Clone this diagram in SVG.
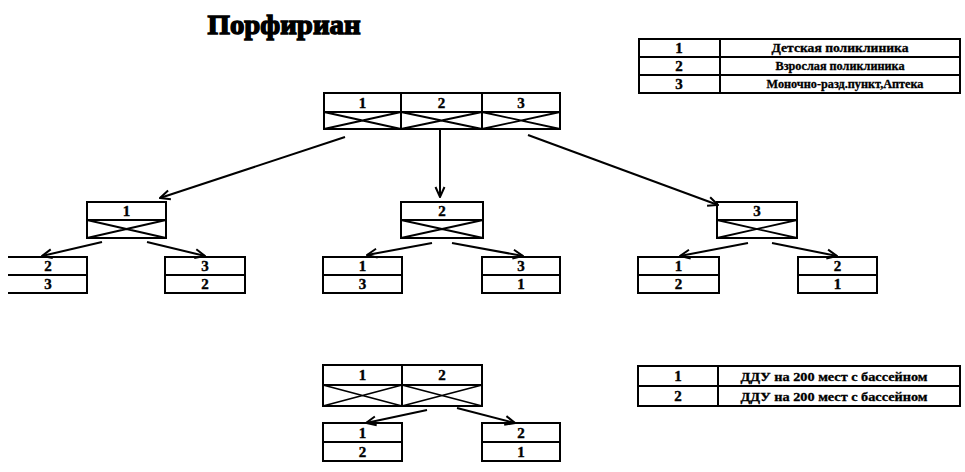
<svg xmlns="http://www.w3.org/2000/svg" width="965" height="472" viewBox="0 0 965 472">
<defs>
<marker id="arr" viewBox="0 0 12 12" refX="11" refY="6" markerWidth="12" markerHeight="12" markerUnits="userSpaceOnUse" orient="auto">
<path d="M1,1.5 L11,6 L1,10.5" fill="none" stroke="#000" stroke-width="2"/>
</marker>
</defs>
<style>
.b{fill:#fff;stroke:#000;stroke-width:2}
.l{fill:none;stroke:#000;stroke-width:2}
.x{fill:none;stroke:#000;stroke-width:1.8}
.n{font-family:"Liberation Serif",serif;font-weight:bold;font-size:15px;text-anchor:middle;fill:#000;stroke:#000;stroke-width:0.4}
.t{font-family:"Liberation Serif",serif;font-weight:bold;font-size:12px;text-anchor:middle;fill:#000;stroke:#000;stroke-width:0.3}
.c{fill:none;stroke:#000;stroke-width:2;marker-end:url(#arr)}
</style>
<rect width="965" height="472" fill="#fff"/>
<text x="284" y="34" font-family="Liberation Serif,serif" font-weight="bold" font-size="28" text-anchor="middle" textLength="153" lengthAdjust="spacingAndGlyphs" stroke="#000" stroke-width="1.4">Порфириан</text>

<g id="legend1">
<rect class="b" x="639" y="39" width="321" height="54"/>
<path class="l" d="M639,57H960M639,75H960M720,39V93"/>
<text class="n" x="679" y="53">1</text>
<text class="n" x="679" y="71">2</text>
<text class="n" x="679" y="89">3</text>
<text class="t" x="840" y="52" textLength="137" lengthAdjust="spacingAndGlyphs">Детская поликлиника</text>
<text class="t" x="840" y="70" textLength="129" lengthAdjust="spacingAndGlyphs">Взрослая поликлиника</text>
<text class="t" x="845" y="88" textLength="157" lengthAdjust="spacingAndGlyphs">Моночно-разд.пункт,Аптека</text>
</g>

<g id="top">
<rect class="b" x="324" y="93" width="236" height="36"/>
<path class="l" d="M324,112H560M401,93V129M482,93V129"/>
<path class="x" d="M324,112L401,129M324,129L401,112M401,112L482,129M401,129L482,112M482,112L560,129M482,129L560,112"/>
<text class="n" x="362.5" y="108">1</text>
<text class="n" x="441.5" y="108">2</text>
<text class="n" x="521" y="108">3</text>
</g>

<g id="n1">
<rect class="b" x="87" y="202" width="79" height="36"/>
<path class="l" d="M87,220H166"/>
<path class="x" d="M87,220L166,238M87,238L166,220"/>
<text class="n" x="126.5" y="216">1</text>
</g>
<g id="n2">
<rect class="b" x="401" y="202" width="82" height="36"/>
<path class="l" d="M401,220H483"/>
<path class="x" d="M401,220L483,238M401,238L483,220"/>
<text class="n" x="442" y="216">2</text>
</g>
<g id="n3">
<rect class="b" x="717" y="202" width="80" height="36"/>
<path class="l" d="M717,220H797"/>
<path class="x" d="M717,220L797,238M717,238L797,220"/>
<text class="n" x="757" y="216">3</text>
</g>

<g id="n1a">
<path class="l" d="M8,257H87V293H8M8,275H87"/>
<text class="n" x="48" y="271">2</text>
<text class="n" x="48" y="289">3</text>
</g>
<g id="n1b">
<rect class="b" x="165" y="257" width="80" height="36"/>
<path class="l" d="M165,275H245"/>
<text class="n" x="205" y="271">3</text>
<text class="n" x="205" y="289">2</text>
</g>
<g id="n2a">
<rect class="b" x="323" y="257" width="79" height="36"/>
<path class="l" d="M323,275H402"/>
<text class="n" x="362.5" y="271">1</text>
<text class="n" x="362.5" y="289">3</text>
</g>
<g id="n2b">
<rect class="b" x="482" y="257" width="78" height="36"/>
<path class="l" d="M482,275H560"/>
<text class="n" x="521" y="271">3</text>
<text class="n" x="521" y="289">1</text>
</g>
<g id="n3a">
<rect class="b" x="638" y="257" width="81" height="36"/>
<path class="l" d="M638,275H719"/>
<text class="n" x="678.5" y="271">1</text>
<text class="n" x="678.5" y="289">2</text>
</g>
<g id="n3b">
<rect class="b" x="798" y="257" width="79" height="36"/>
<path class="l" d="M798,275H877"/>
<text class="n" x="837.5" y="271">2</text>
<text class="n" x="837.5" y="289">1</text>
</g>

<g id="bottom">
<rect class="b" x="323" y="365" width="159" height="41"/>
<path class="l" d="M323,385H482M402,365V406"/>
<path class="x" d="M323,385L402,406M323,406L402,385M402,385L482,406M402,406L482,385"/>
<text class="n" x="362.5" y="380">1</text>
<text class="n" x="442" y="380">2</text>
</g>
<g id="ba">
<rect class="b" x="323" y="423" width="79" height="38"/>
<path class="l" d="M323,442H402"/>
<text class="n" x="362.5" y="438">1</text>
<text class="n" x="362.5" y="457">2</text>
</g>
<g id="bb">
<rect class="b" x="482" y="423" width="78" height="38"/>
<path class="l" d="M482,442H560"/>
<text class="n" x="521" y="438">2</text>
<text class="n" x="521" y="457">1</text>
</g>

<g id="legend2">
<rect class="b" x="638" y="366" width="322" height="40"/>
<path class="l" d="M638,386H960M718,366V406"/>
<text class="n" x="678" y="381">1</text>
<text class="n" x="678" y="401">2</text>
<text class="t" x="834" y="381" textLength="187" lengthAdjust="spacingAndGlyphs">ДДУ на 200 мест с бассейном</text>
<text class="t" x="834" y="401" textLength="187" lengthAdjust="spacingAndGlyphs">ДДУ на 200 мест с бассейном</text>
</g>

<g id="connectors">
<path class="c" d="M345,137L160,198"/>
<path class="c" d="M440,130V197"/>
<path class="c" d="M528,135L718,205"/>
<path class="c" d="M102,242L42,256"/>
<path class="c" d="M147,242L205,256"/>
<path class="c" d="M432,243L367,255"/>
<path class="c" d="M452,243L523,256"/>
<path class="c" d="M748,243L680,256"/>
<path class="c" d="M772,243L837,256"/>
<path class="c" d="M427,410L366,423"/>
<path class="c" d="M457,408L515,423"/>
</g>
</svg>
